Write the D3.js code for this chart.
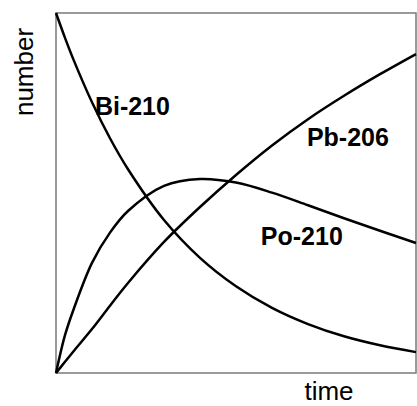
<!DOCTYPE html>
<html>
<head>
<meta charset="utf-8">
<script src="https://cdn.jsdelivr.net/npm/d3@7"></script>
<style>
  body { margin: 0; background: #fff; }
  text { font-family: "Liberation Sans", Arial, sans-serif; }
</style>
</head>
<body>
<div id="chart"></div>
<script>
// time steps (fraction of the plotted span) and amounts
var timeSteps = [0, 0.025, 0.05, 0.1, 0.15, 0.2, 0.3, 0.4, 0.5, 0.6, 0.7, 0.8, 0.9, 1.0];
var bi210 = [1, 0.931, 0.867, 0.752, 0.652, 0.566, 0.425, 0.320, 0.241, 0.181, 0.136, 0.102, 0.077, 0.058];
var po210 = [0, 0.105, 0.18, 0.306, 0.39, 0.45, 0.52, 0.539, 0.529, 0.501, 0.466, 0.43, 0.395, 0.361];
var pb206 = [0, 0.031, 0.062, 0.122, 0.187, 0.25, 0.364, 0.461, 0.55, 0.632, 0.705, 0.77, 0.83, 0.886];

var labels = [
  { name: "Bi-210", t: 0.108, v: 0.718 },
  { name: "Pb-206", t: 0.697, v: 0.631 },
  { name: "Po-210", t: 0.569, v: 0.355 }
];

var width = 417, height = 406;
var margin = { top: 13, right: 1, bottom: 33, left: 56 };
var w = width - margin.left - margin.right,
    h = height - margin.top - margin.bottom;

var svg = d3.select("#chart").append("svg")
    .attr("width", width)
    .attr("height", height);

var g = svg.append("g")
    .attr("transform", "translate(" + margin.left + "," + margin.top + ")");

var x = d3.scaleLinear().domain([0, 1]).range([0, w]);
var y = d3.scaleLinear().domain([0, 1]).range([h, 0]);

g.append("rect")
    .attr("x", x(0)).attr("y", y(1))
    .attr("width", x(1) - x(0)).attr("height", y(0) - y(1))
    .attr("fill", "none")
    .attr("stroke", "#7a7a7a")
    .attr("stroke-width", 1.5);

var line = d3.line()
    .x(function(d) { return x(d[0]); })
    .y(function(d) { return y(d[1]); })
    .curve(d3.curveCatmullRom.alpha(0.5));

[bi210, po210, pb206].forEach(function(series) {
  g.append("path")
      .datum(timeSteps.map(function(t, i) { return [t, series[i]]; }))
      .attr("fill", "none")
      .attr("stroke", "#000")
      .attr("stroke-width", 2.5)
      .attr("d", line);
});

g.selectAll(".lbl")
    .data(labels)
  .enter().append("text")
    .attr("class", "lbl")
    .attr("x", function(d) { return x(d.t); })
    .attr("y", function(d) { return y(d.v); })
    .attr("font-size", 25)
    .attr("font-weight", "bold")
    .text(function(d) { return d.name; });

// axis titles
svg.append("text")
    .attr("transform", "translate(33," + 72 + ") rotate(-90)")
    .attr("text-anchor", "middle")
    .attr("font-size", 26)
    .text("number");

svg.append("text")
    .attr("x", 329)
    .attr("y", 400)
    .attr("text-anchor", "middle")
    .attr("font-size", 26)
    .text("time");
</script>
</body>
</html>
